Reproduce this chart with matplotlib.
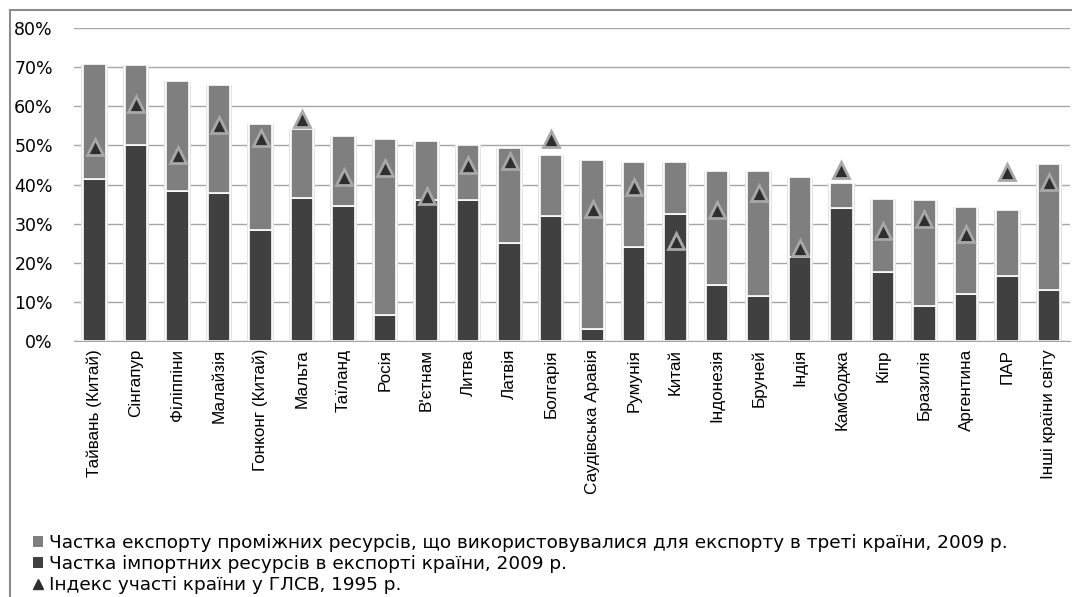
import numpy as np
import matplotlib
matplotlib.use('Agg')
from matplotlib import pyplot as plt
from matplotlib.patches import Patch
from matplotlib.lines import Line2D

countries = ['Тайвань (Китай)', 'Сінгапур', 'Філіппіни', 'Малайзія', 'Гонконг (Китай)',
             'Мальта', 'Таїланд', 'Росія', "В'єтнам", 'Литва', 'Латвія', 'Болгарія',
             'Саудівська Аравія', 'Румунія', 'Китай', 'Індонезія', 'Бруней', 'Індія',
             'Камбоджа', 'Кіпр', 'Бразилія', 'Аргентина', 'ПАР', 'Інші країни світу']
# % values
import_share = [41.3, 50.0, 38.3, 37.9, 28.4, 36.6, 34.5, 6.7, 36.0, 36.0, 25.1, 32.0,
                3.0, 24.1, 32.4, 14.3, 11.4, 21.5, 34.1, 17.7, 8.9, 12.0, 16.5, 13.0]
third_share = [29.5, 20.5, 28.3, 27.5, 27.1, 17.5, 18.0, 44.9, 15.1, 14.0, 24.2, 15.6,
               43.3, 21.7, 13.4, 29.1, 32.0, 20.4, 6.4, 18.5, 27.1, 22.2, 17.0, 32.3]
index_1995 = [49.5, 60.6, 47.5, 55.3, 51.9, 56.7, 41.9, 44.1, 37.1, 45.0, 46.1, 51.7,
              33.8, 39.4, 25.5, 33.4, 37.7, 23.7, 43.7, 28.2, 31.2, 27.3, 43.3, 40.6]

lab_light = 'Частка експорту проміжних ресурсів, що використовувалися для експорту в треті країни, 2009 р.'
lab_dark = 'Частка імпортних ресурсів в експорті країни, 2009 р.'
lab_tri = 'Індекс участі країни у ГЛСВ, 1995 р.'

dark = '#404040'
light = '#7f7f7f'

x = np.arange(len(countries))
imp = np.array(import_share) / 100
thr = np.array(third_share) / 100
idx = np.array(index_1995) / 100

fig = plt.figure(figsize=(10.72, 5.97), dpi=100)
ax = fig.add_axes([0.0688, 0.4293, 0.9291, 0.5233])

w = 0.55
# soft halo behind bars
ax.bar(x, imp + thr, width=w + 0.08, color='#e4e4e4', zorder=1)
ax.bar(x, imp, width=w, color=dark, edgecolor='white', linewidth=1.2, zorder=2)
ax.bar(x, thr, bottom=imp, width=w, color=light, edgecolor='white', linewidth=1.2, zorder=2)
ax.plot(x, idx, linestyle='none', marker='^', ms=12, mfc='#2e2e2e', mec='#a8a8a8',
        mew=2, zorder=3)

ax.set_xlim(-0.5, len(countries) - 0.5)
ax.set_ylim(0, 0.8)
ax.set_yticks(np.arange(0, 0.81, 0.1))
ax.set_yticklabels([f'{int(round(v * 100))}%' for v in np.arange(0, 0.81, 0.1)],
                   fontsize=12.5, family='DejaVu Sans')
ax.set_xticks(x)
ax.set_xticklabels(countries, rotation=90, fontsize=12.3, family='Liberation Sans')
ax.tick_params(axis='both', length=0, colors='black')
ax.tick_params(axis='y', pad=15)
ax.tick_params(axis='x', pad=6)
ax.grid(axis='y', color='#a6a6a6', linewidth=1, zorder=0)
ax.set_axisbelow(True)
for s in ['left', 'right', 'top']:
    ax.spines[s].set_visible(False)
ax.spines['bottom'].set_color('#a6a6a6')

handles = [Patch(facecolor=light, edgecolor='none'),
           Patch(facecolor=dark, edgecolor='none'),
           Line2D([], [], linestyle='none', marker='^', ms=7, mfc='#2e2e2e', mec='#2e2e2e')]
fig.legend(handles, [lab_light, lab_dark, lab_tri], loc='upper left',
           bbox_to_anchor=(0.022, 0.121), frameon=False, handlelength=0.55,
           handleheight=0.55, handletextpad=0.3, labelspacing=0.16, borderpad=0,
           prop={'family': 'DejaVu Sans', 'size': 13.3})

# outer frame of the chart
fig.add_artist(Line2D([0.0093, 0.0093], [0, 0.983], color='#8c8c8c', lw=1.5,
                      transform=fig.transFigure))
fig.add_artist(Line2D([0.0093, 1.0], [0.983, 0.983], color='#8c8c8c', lw=1.5,
                      transform=fig.transFigure))

fig.savefig('out.png', dpi=100)
